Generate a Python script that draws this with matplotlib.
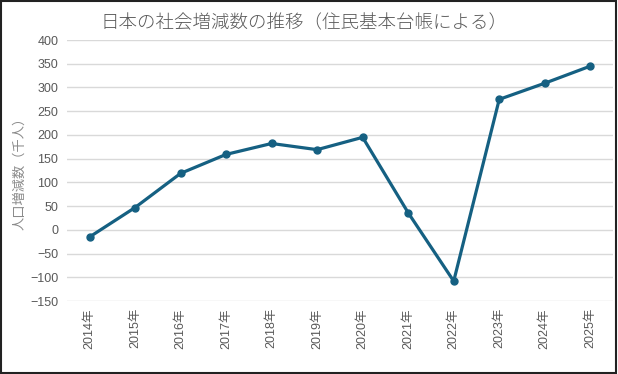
import matplotlib
matplotlib.use("Agg")
import matplotlib.pyplot as plt
from matplotlib.patches import Rectangle

plt.rcParams["font.family"] = ["Liberation Sans", "Noto Sans CJK JP", "DejaVu Sans"]

years = ["2014年", "2015年", "2016年", "2017年", "2018年", "2019年",
         "2020年", "2021年", "2022年", "2023年", "2024年", "2025年"]
values = [-15, 47, 119, 159, 182, 169, 195, 36, -108, 275, 309, 345]
y_ticks = list(range(-150, 401, 50))

line_color = "#156082"
text_color = "#595959"
light_text = "#8a8a8a"

fig = plt.figure(figsize=(6.18, 3.74), dpi=100)
ax = fig.add_axes([0.108, 0.195, 0.884, 0.698])

x = list(range(len(years)))
ax.plot(x, values, color=line_color, linewidth=2.3, marker="o", markersize=5)

ax.set_xlim(-0.5, len(years) - 0.5)
ax.set_ylim(-150, 400)
ax.set_yticks(y_ticks)
ax.set_xticks(x)
ax.set_xticklabels(years, rotation=90)
ax.tick_params(axis="both", length=0, colors=text_color, labelsize=9)
ax.tick_params(axis="y", pad=6)
ax.tick_params(axis="x", pad=5)
ax.grid(axis="y", color="#d9d9d9", linewidth=1)
ax.set_axisbelow(True)
for spine in ax.spines.values():
    spine.set_visible(False)

ax.set_ylabel("人口増減数（千人）", color=light_text, fontsize=9.5,
              family=["Noto Sans CJK JP"])
ax.yaxis.set_label_coords(-0.074, 0.5)
fig.text(0.492, 0.938, "日本の社会増減数の推移（住民基本台帳による）",
         ha="center", va="center", color=text_color, fontsize=13.3,
         family=["Noto Sans CJK JP"], fontweight="light")

fig.patches.append(Rectangle((0.002, 0.003), 0.994, 0.994, transform=fig.transFigure,
                             fill=False, edgecolor="#222222", linewidth=1.5))

fig.savefig("out.png", dpi=100)
